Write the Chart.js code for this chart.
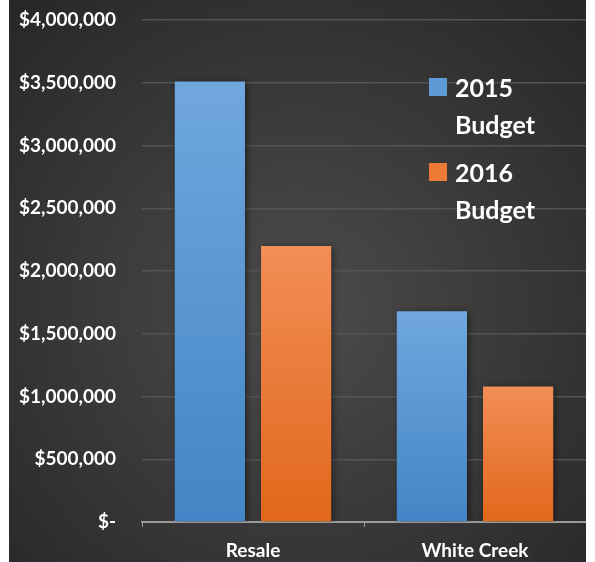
<!DOCTYPE html>
<html>
<head>
<meta charset="utf-8">
<script src="https://cdn.jsdelivr.net/npm/chart.js@4/dist/chart.umd.min.js"></script>
<style>
  html, body { margin: 0; padding: 0; background: #fff; }
  #wrap { position: absolute; left: 9px; top: 0; width: 577px; height: 562px; }
</style>
</head>
<body>
<div id="wrap"><canvas id="budget-chart"></canvas></div>
<script>
const categories = ["Resale", "White Creek"]
const seriesNames = ["2015 Budget", "2016 Budget"]
const budget2015 = [3510000, 1680000]
const budget2016 = [2200000, 1080000]
const yTicks = [0, 500000, 1000000, 1500000, 2000000, 2500000, 3000000, 3500000, 4000000]

const FONT = "Lato, 'Open Sans', sans-serif"
const blue = { top: "#70a7de", bottom: "#4385c6", key: "#5e9bd6" }
const orange = { top: "#f38e57", bottom: "#e1671b", key: "#ee7b33" }

const money = (v) => v === 0 ? "$-" : "$" + v.toLocaleString("en-US")

// per-bar vertical gradient, lighter at the top
const barFill = (pal) => (ctx) => {
  const chart = ctx.chart
  const y = chart.scales.y
  if (!chart.chartArea || !y || ctx.raw === undefined) return pal.key
  const top = y.getPixelForValue(ctx.raw)
  const bottom = y.getPixelForValue(0)
  const g = chart.ctx.createLinearGradient(0, top, 0, bottom)
  g.addColorStop(0, pal.top)
  g.addColorStop(1, pal.bottom)
  return g
}

const backdrop = {
  id: "backdrop",
  beforeDraw(chart) {
    const { ctx, width, height } = chart
    const g = ctx.createRadialGradient(width * 0.5, height * 0.55, 10, width * 0.5, height * 0.55, 430)
    g.addColorStop(0, "#4b4b4b")
    g.addColorStop(1, "#262626")
    ctx.save()
    ctx.fillStyle = g
    ctx.fillRect(0, 0, width, height)
    ctx.restore()
  }
}

const barShadow = {
  id: "barShadow",
  beforeDatasetsDraw(chart) {
    const ctx = chart.ctx
    ctx.save()
    ctx.shadowColor = "rgba(0,0,0,0.55)"
    ctx.shadowBlur = 7
    ctx.shadowOffsetX = 2
    ctx.shadowOffsetY = 1
  },
  afterDatasetsDraw(chart) {
    chart.ctx.restore()
  }
}

// legend drawn inside the plot, two-line labels
const sideLegend = {
  id: "sideLegend",
  afterDraw(chart) {
    const ctx = chart.ctx
    const x = 420, y0 = 78, step = 85
    ctx.save()
    ctx.font = "bold 25px " + FONT
    ctx.textBaseline = "alphabetic"
    ctx.textAlign = "left"
    chart.data.datasets.forEach((ds, i) => {
      const y = y0 + i * step
      ctx.fillStyle = ds.keyColor
      ctx.fillRect(x, y, 18, 18)
      ctx.fillStyle = "#ffffff"
      ds.label.split(" ").forEach((word, j) => {
        ctx.fillText(word, x + 26, y + 19 + j * 37)
      })
    })
    ctx.restore()
  }
}

new Chart(document.getElementById("budget-chart"), {
  type: "bar",
  data: {
    labels: categories,
    datasets: [
      { label: seriesNames[0], data: budget2015, backgroundColor: barFill(blue), keyColor: blue.key },
      { label: seriesNames[1], data: budget2016, backgroundColor: barFill(orange), keyColor: orange.key }
    ]
  },
  options: {
    responsive: true,
    maintainAspectRatio: false,
    animation: false,
    categoryPercentage: 0.777,
    barPercentage: 0.814,
    layout: { padding: { top: 20, right: 0, left: 0, bottom: 0 } },
    plugins: {
      legend: { display: false },
      tooltip: { enabled: false }
    },
    scales: {
      x: {
        grid: { drawOnChartArea: false, drawTicks: true, tickLength: 5, color: "#9a9a9a", offset: true },
        border: { color: "#9a9a9a", width: 2 },
        ticks: { color: "#ffffff", font: { family: FONT, size: 19, weight: "bold" }, padding: 12 },
        afterFit: (s) => { s.height = 40 }
      },
      y: {
        min: 0,
        max: 4000000,
        afterBuildTicks: (s) => { s.ticks = yTicks.map((v) => ({ value: v })) },
        grid: { color: "#545454", lineWidth: 1.5, drawTicks: false },
        border: { display: false },
        ticks: {
          color: "#ffffff",
          font: { family: FONT, size: 19, weight: "bold" },
          padding: 26,
          callback: (v) => money(v)
        },
        afterFit: (s) => {
          s.width = 133
          s.paddingTop = 0
          s.paddingBottom = 0
        }
      }
    }
  },
  plugins: [backdrop, barShadow, sideLegend]
})
</script>
</body>
</html>
